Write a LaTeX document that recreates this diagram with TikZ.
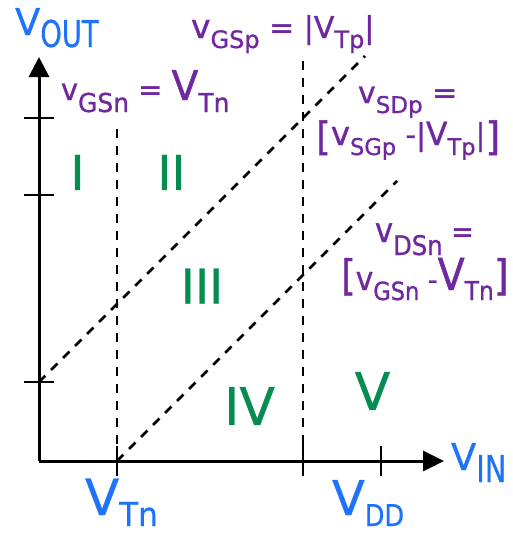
\documentclass[tikz,border=0pt]{standalone}
\usepackage{fontspec}
\setmainfont{DejaVu Sans}
\newfontfamily\pfont{DejaVu Sans}[FakeBold=1]
\newfontfamily\bfont{DejaVu Sans}[FakeBold=0.6]
\usepackage{graphicx}
\usetikzlibrary{arrows.meta}
\definecolor{vblue}{RGB}{30,115,250}
\definecolor{vpurp}{RGB}{112,40,160}
\definecolor{vgreen}{RGB}{5,140,80}
\newcommand\fsz[1]{\fontsize{#1}{#1}\selectfont}
\newcommand\lsb[3]{\raisebox{-#1pt}{\fsz{#2}#3}}
\newcommand\xs[2]{\scalebox{#1}[1]{#2}}
\tikzset{
  axisline/.style={line width=3pt, line join=miter},
  tickline/.style={line width=2.8pt},
  guide/.style={line width=2.5pt, dash pattern=on 9pt off 8pt},
  lab/.style={inner sep=0pt, outer sep=0pt, anchor=base west},
  bluelab/.style={lab, text=vblue, font=\bfont},
  purplab/.style={lab, text=vpurp, font=\pfont},
  region/.style={inner sep=0pt, outer sep=0pt, text=vgreen, anchor=center, font=\bfont},
}
\begin{document}
\begin{tikzpicture}[x=1pt,y=-1pt]
\useasboundingbox (0,0) rectangle (512,533);
% key points
\coordinate (O) at (39,461);
\coordinate (ytop) at (39,57);
\coordinate (xend) at (444,461);
\coordinate (ty1a) at (24,118); \coordinate (ty1b) at (54,118);
\coordinate (ty2a) at (24,195); \coordinate (ty2b) at (54,195);
\coordinate (ty3a) at (24,382); \coordinate (ty3b) at (54,382);
\coordinate (tx1a) at (117,446); \coordinate (tx1b) at (117,476);
\coordinate (tx2a) at (303,444); \coordinate (tx2b) at (303,476);
\coordinate (tx3a) at (381,446); \coordinate (tx3b) at (381,476);
\coordinate (vn1) at (117,122); \coordinate (vn0) at (117,461);
\coordinate (vp1) at (303,57); \coordinate (vp0) at (303,461);
\coordinate (d1a) at (39,382); \coordinate (d1b) at (365,56);
\coordinate (d2a) at (117,461); \coordinate (d2b) at (397,181);
% guides
\draw[guide] (vn0) -- (vn1);
\draw[guide] (vp0) -- (vp1);
\draw[guide] (d1a) -- (d1b);
\draw[guide] (d2a) -- (d2b);
% axes
\draw[axisline,-{Triangle[length=20pt,width=20pt]}] (O) -- (ytop);
\draw[axisline,-{Triangle[length=21pt,width=20pt]}] (O) -- (xend);
% ticks
\draw[tickline] (ty1a) -- (ty1b);
\draw[tickline] (ty2a) -- (ty2b);
\draw[tickline] (ty3a) -- (ty3b);
\draw[tickline] (tx1a) -- (tx1b);
\draw[tickline] (tx2a) -- (tx2b);
\draw[tickline] (tx3a) -- (tx3b);
% blue axis labels
\node[bluelab] (vout) at (15,35) {\fsz{37}V\lsb{12}{37}{\xs{0.74}{OUT}}};
\node[bluelab] (vin) at (451,470) {\fsz{37}V\lsb{12}{37}{\xs{0.78}{IN}}};
\node[bluelab] (vtn) at (85,515) {\fsz{50}V\lsb{11}{33}{\xs{0.94}{Tn}}};
\node[bluelab] (vdd) at (332,515) {\fsz{48}V\lsb{11}{30}{\xs{0.85}{DD}}};
% purple labels
\node[purplab] (l1) at (191,38) {\xs{1.0}{\fsz{33}v\lsb{10}{24}{GSp}\fsz{30} = |V\lsb{10}{24}{Tp}|}};
\node[purplab] (l2) at (61,100) {\xs{0.96}{\fsz{30}v\lsb{12}{26}{GSn} = {\fsz{41}V}\lsb{12}{26}{Tn}}};
\node[purplab] (l3a) at (358,103) {\xs{1.0}{\fsz{30}v\lsb{10}{23}{SDp} =}};
\node[purplab] (l3b) at (316,145) {\xs{0.98}{\fsz{30}\raisebox{-5pt}{\fsz{39}[}{\fsz{33}v}\lsb{10}{23}{SGp} -|{\fsz{32}V}\lsb{10}{23}{Tp}|\raisebox{-5pt}{\fsz{39}]}}};
\node[purplab] (l4a) at (375,242) {\xs{0.9}{\fsz{34}v\lsb{13}{27}{DSn}\fsz{30} =}};
\node[purplab] (l4b) at (341,290) {\xs{0.9}{\fsz{30}{\fsz{42}[}{\fsz{33}v}\lsb{10}{25}{GSn} -{\fsz{44}V}\lsb{10}{26}{Tn}{\fsz{42}]}}};
% region labels
\node[region] (r1) at (77.5,172.5) {\fsz{48}I};
\node[region] (r2) at (171.5,172.5) {\fsz{48}II};
\node[region] (r3) at (202,286) {\fsz{48}III};
\node[region] (r4) at (249.5,406) {\fsz{52}IV};
\node[region] (r5) at (372.5,391) {\fsz{52}V};
\end{tikzpicture}
\end{document}
